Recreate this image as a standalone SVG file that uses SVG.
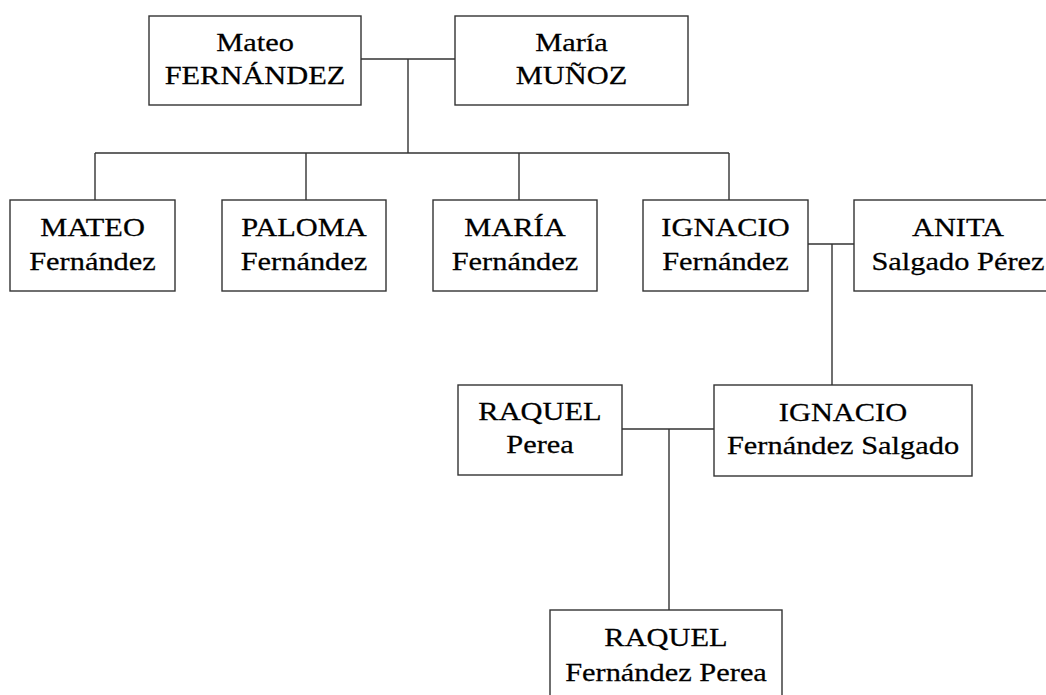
<svg xmlns="http://www.w3.org/2000/svg" width="1046" height="695" viewBox="0 0 1046 695">
<style>
.box{fill:#fff;stroke:#333;stroke-width:1.4}
.ln{fill:none;stroke:#333;stroke-width:1.4}
text{font-family:"Liberation Serif","Times New Roman",serif;font-size:26px;fill:#000;stroke:#000;stroke-width:0.25;text-anchor:middle}
</style>
<rect width="1046" height="695" fill="#fff"/>
<g id="connectors">
<path class="ln" d="M361 59H455M408 59V153M95 153H729M95 153V200M306 153V200M519 153V200M729 153V200"/>
<path class="ln" d="M808 244H854M832 244V385"/>
<path class="ln" d="M622 429H714M669 429V610"/>
</g>
<g id="mateo-sr">
<rect class="box" x="149" y="16" width="212" height="89"/>
<g transform="translate(255,0) scale(1.17,1)"><text x="0" y="51.5">Mateo</text><text x="0" y="84">FERNÁNDEZ</text></g>
</g>
<g id="maria-munoz">
<rect class="box" x="455" y="16" width="233" height="89"/>
<g transform="translate(571.5,0) scale(1.17,1)"><text x="0" y="51.5">María</text><text x="0" y="84">MUÑOZ</text></g>
</g>
<g id="mateo-jr">
<rect class="box" x="10" y="200" width="165" height="91"/>
<g transform="translate(92.5,0) scale(1.17,1)"><text x="0" y="236.5">MATEO</text><text x="0" y="270.5">Fernández</text></g>
</g>
<g id="paloma">
<rect class="box" x="222" y="200" width="164" height="91"/>
<g transform="translate(304,0) scale(1.17,1)"><text x="0" y="236.5">PALOMA</text><text x="0" y="270.5">Fernández</text></g>
</g>
<g id="maria-jr">
<rect class="box" x="433" y="200" width="164" height="91"/>
<g transform="translate(515,0) scale(1.17,1)"><text x="0" y="236.5">MARÍA</text><text x="0" y="270.5">Fernández</text></g>
</g>
<g id="ignacio-sr">
<rect class="box" x="643" y="200" width="165" height="91"/>
<g transform="translate(725.5,0) scale(1.17,1)"><text x="0" y="236.5">IGNACIO</text><text x="0" y="270.5">Fernández</text></g>
</g>
<g id="anita">
<rect class="box" x="854" y="200" width="208" height="91"/>
<g transform="translate(958,0) scale(1.17,1)"><text x="0" y="236.5">ANITA</text><text x="0" y="270.5">Salgado Pérez</text></g>
</g>
<g id="raquel-perea">
<rect class="box" x="458" y="385" width="164" height="90"/>
<g transform="translate(540,0) scale(1.17,1)"><text x="0" y="420.5">RAQUEL</text><text x="0" y="453.5">Perea</text></g>
</g>
<g id="ignacio-jr">
<rect class="box" x="714" y="385" width="258" height="91"/>
<g transform="translate(843,0) scale(1.17,1)"><text x="0" y="421">IGNACIO</text><text x="0" y="454">Fernández Salgado</text></g>
</g>
<g id="raquel-jr">
<rect class="box" x="550" y="610" width="232" height="95"/>
<g transform="translate(666,0) scale(1.17,1)"><text x="0" y="646.5">RAQUEL</text><text x="0" y="681.5">Fernández Perea</text></g>
</g>
</svg>
